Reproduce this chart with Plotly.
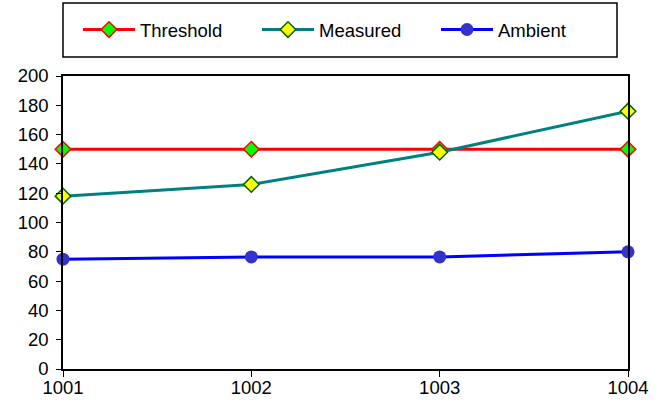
import plotly.graph_objects as go

categories = [1001, 1002, 1003, 1004]
threshold = [150, 150, 150, 150]
measured = [118, 126, 148, 176]
ambient = [75, 76.5, 76.5, 80]
y_ticks = list(range(0, 201, 20))

fig = go.Figure()
fig.add_trace(go.Scatter(
    x=categories, y=threshold, name="Threshold", mode="lines+markers",
    line=dict(color="#ff0000", width=3),
    marker=dict(symbol="diamond", size=12, color="#00ff00", line=dict(color="#ff0000", width=1.5)),
    cliponaxis=False))
fig.add_trace(go.Scatter(
    x=categories, y=measured, name="Measured", mode="lines+markers",
    line=dict(color="#008080", width=3),
    marker=dict(symbol="diamond", size=12, color="#ffff00", line=dict(color="#006400", width=1.5)),
    cliponaxis=False))
fig.add_trace(go.Scatter(
    x=categories, y=ambient, name="Ambient", mode="lines+markers",
    line=dict(color="#0000ff", width=3),
    marker=dict(symbol="circle", size=13, color="#3333cc"),
    cliponaxis=False))

font = dict(family="Liberation Sans, Arial, sans-serif", size=18.5, color="#000000")

W, H = 668, 410
L, T = 63, 76
R = W - 628
B = H - 369
PW, PH = W - L - R, H - T - B

fig.update_layout(
    width=W, height=H,
    margin=dict(l=L, r=R, t=T, b=B, autoexpand=False),
    paper_bgcolor="white", plot_bgcolor="white",
    font=font,
    showlegend=True,
    legend=dict(orientation="h", x=(78 - L) / PW, y=1 + (T - 30) / PH,
                xanchor="left", yanchor="middle",
                font=font, bgcolor="rgba(0,0,0,0)", borderwidth=0,
                itemwidth=52, entrywidth=112, entrywidthmode="pixels", tracegroupgap=0),
    xaxis=dict(range=[1001, 1004], tickvals=categories, ticktext=[str(c) for c in categories],
               showgrid=False, zeroline=False, showline=True, linecolor="black", linewidth=1.5,
               mirror=True, ticks="outside", ticklen=6, tickcolor="black", tickfont=font,
               ticklabelstandoff=-5),
    yaxis=dict(range=[0, 200], tickvals=y_ticks, showgrid=False, zeroline=False,
               showline=True, linecolor="black", linewidth=1.5, mirror=True,
               ticks="outside", ticklen=5, tickcolor="black", tickfont=font,
               ticklabelstandoff=4),
    shapes=[dict(type="rect", xref="paper", yref="paper",
                 x0=0, x1=(617 - L) / PW,
                 y0=1 + (T - 57) / PH, y1=1 + (T - 3) / PH,
                 line=dict(color="black", width=1.5), fillcolor="rgba(0,0,0,0)")],
)

fig.write_html("out.html", config={"displayModeBar": False},
               post_script="document.body.style.margin='0';document.body.style.padding='0';")
